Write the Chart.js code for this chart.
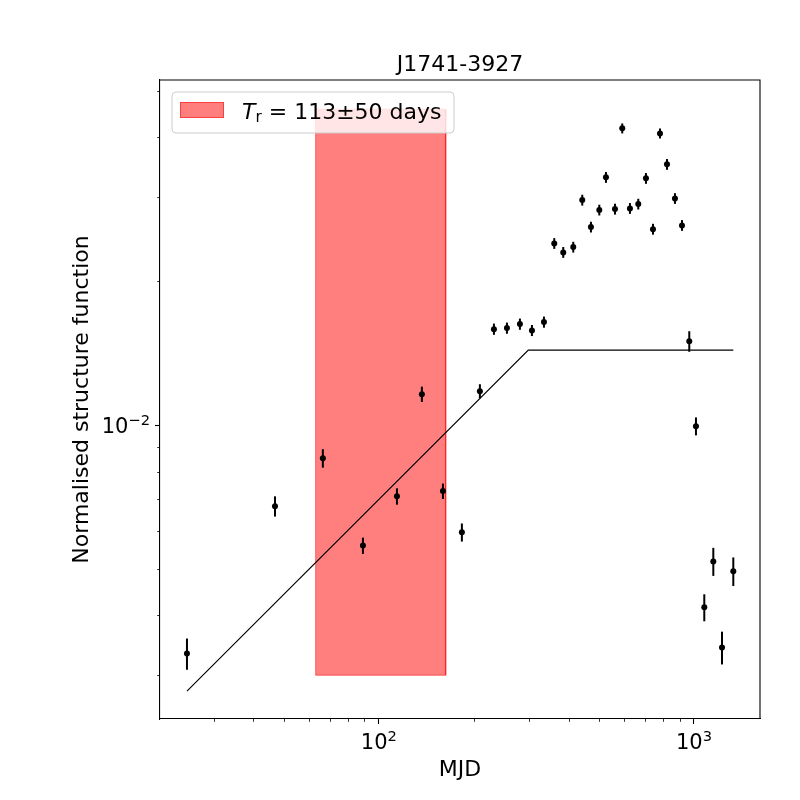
<!DOCTYPE html>
<html><head><meta charset="utf-8">
<script src="https://cdn.jsdelivr.net/npm/chart.js@4.4.0/dist/chart.umd.min.js"></script>
<style>html,body{margin:0;padding:0;background:#fff;}#wrap{width:800px;height:800px;}</style>
</head><body><div id="wrap"><canvas id="c" width="800" height="800"></canvas></div>
<script>
// ---- data ----
const lags = [24.6, 46.8, 66.4, 89.0, 114.1, 136.9, 159.7, 183.4, 209.2, 231.8, 254.9, 280.3, 306.0, 334.1, 360.2, 384.7, 413.9, 442.0, 471.0, 500.6, 525.6, 561.4, 592.0, 626.3, 665.6, 704.0, 741.1, 780.0, 821.0, 870.2, 916.0, 966.2, 1014.6, 1078.2, 1151.7, 1227.2, 1332.9];
const sf = [0.00333, 0.00677, 0.00853, 0.00560, 0.00710, 0.01161, 0.00728, 0.00597, 0.01178, 0.01588, 0.01596, 0.01627, 0.01578, 0.01643, 0.02399, 0.02298, 0.02357, 0.02956, 0.02596, 0.02818, 0.03298, 0.02831, 0.04175, 0.02840, 0.02900, 0.03282, 0.02570, 0.04075, 0.03511, 0.02979, 0.02617, 0.01498, 0.00995, 0.00416, 0.00519, 0.00343, 0.00495];
const sfErr = [0.00025, 0.00033, 0.00038, 0.00022, 0.00028, 0.00043, 0.00027, 0.00026, 0.00040, 0.00043, 0.00043, 0.00044, 0.00042, 0.00044, 0.00062, 0.00060, 0.00061, 0.00077, 0.00067, 0.00073, 0.00086, 0.00074, 0.00100, 0.00074, 0.00075, 0.00085, 0.00067, 0.00098, 0.00091, 0.00077, 0.00068, 0.00074, 0.00043, 0.00027, 0.00035, 0.00027, 0.00034];
const modelLag = [24.6, 298, 1333];
const modelSF = [0.00278, 0.01435, 0.01435];
const trCentre = 113, trErr = 50;
const bandSF = [0.003, 0.0458];
const xRange = [20.2, 1620];
const yRange = [0.00243, 0.0527];
const xMajorTicks = [100, 1000];
const xTickBase = ['10', '10'];
const xTickExp = ['2', '3'];
const yMajorTicks = [0.01];
const yTickBase = ['10'];
const yTickExp = ['\u22122'];
const titleText = 'J1741-3927';
const xLabel = 'MJD';
const yLabel = 'Normalised structure function';

function minorList(decades, lo, hi) {
  const out = [];
  decades.forEach(d => { for (let m = 2; m <= 9; m++) { const v = m * d; if (v >= lo && v <= hi) out.push(v); } });
  return out;
}
const xMinor = minorList([10, 100, 1000], xRange[0], xRange[1]);
const yMinor = minorList([0.001, 0.01], yRange[0], yRange[1]);

const FONT = "'DejaVu Sans', sans-serif";
Chart.defaults.font.family = FONT;
Chart.defaults.color = '#000';
const TICK_PX = 21, EXP_PX = 14.7, EXP_RISE = 8;

const bandPts = [
  {x: trCentre - trErr, y: bandSF[0]}, {x: trCentre - trErr, y: bandSF[1]},
  {x: trCentre + trErr, y: bandSF[1]}, {x: trCentre + trErr, y: bandSF[0]},
  {x: trCentre - trErr, y: bandSF[0]}
];

function powerLabel(ctx, base, exp, x, y, align) {
  ctx.font = TICK_PX + 'px ' + FONT; const wb = ctx.measureText(base).width;
  ctx.font = EXP_PX + 'px ' + FONT; const we = ctx.measureText(exp).width;
  const w = wb + we;
  let sx = align === 'center' ? x - w / 2 : x - w;
  ctx.textAlign = 'left'; ctx.textBaseline = 'alphabetic';
  ctx.font = TICK_PX + 'px ' + FONT; ctx.fillText(base, sx, y);
  ctx.font = EXP_PX + 'px ' + FONT; ctx.fillText(exp, sx + wb, y - EXP_RISE);
}

const extras = {
  id: 'extras',
  afterDatasetsDraw(chart) {
    const ctx = chart.ctx, xs = chart.scales.x, ys = chart.scales.y, a = chart.chartArea;
    ctx.save();
    ctx.beginPath(); ctx.rect(a.left, a.top, a.right - a.left, a.bottom - a.top); ctx.clip();
    ctx.strokeStyle = '#000'; ctx.lineWidth = 2;
    lags.forEach((l, i) => {
      const px = xs.getPixelForValue(l);
      ctx.beginPath();
      ctx.moveTo(px, ys.getPixelForValue(sf[i] - sfErr[i]));
      ctx.lineTo(px, ys.getPixelForValue(sf[i] + sfErr[i]));
      ctx.stroke();
    });
    ctx.restore();
  },
  afterDraw(chart) {
    const ctx = chart.ctx, xs = chart.scales.x, ys = chart.scales.y, a = chart.chartArea;
    ctx.save();
    // minor ticks
    ctx.strokeStyle = '#000'; ctx.lineWidth = 0.8;
    xMinor.forEach(v => { const p = Math.round(xs.getPixelForValue(v)) + 0.5; ctx.beginPath(); ctx.moveTo(p, a.bottom); ctx.lineTo(p, a.bottom + 2.8); ctx.stroke(); });
    yMinor.forEach(v => { const p = Math.round(ys.getPixelForValue(v)) + 0.5; ctx.beginPath(); ctx.moveTo(a.left, p); ctx.lineTo(a.left - 2.8, p); ctx.stroke(); });
    // major tick labels
    ctx.fillStyle = '#000';
    xMajorTicks.forEach((v, i) => powerLabel(ctx, xTickBase[i], xTickExp[i], xs.getPixelForValue(v), a.bottom + 30, 'center'));
    yMajorTicks.forEach((v, i) => powerLabel(ctx, yTickBase[i], yTickExp[i], a.left - 10, ys.getPixelForValue(v) + 8, 'right'));
    // frame top/right
    ctx.lineWidth = 1.1;
    ctx.beginPath(); ctx.moveTo(a.left, a.top); ctx.lineTo(a.right, a.top); ctx.lineTo(a.right, a.bottom); ctx.stroke();
    // legend
    const bx = 172, by = 92, bw = 282, bh = 41, r = 4;
    ctx.beginPath();
    ctx.moveTo(bx + r, by); ctx.lineTo(bx + bw - r, by); ctx.quadraticCurveTo(bx + bw, by, bx + bw, by + r);
    ctx.lineTo(bx + bw, by + bh - r); ctx.quadraticCurveTo(bx + bw, by + bh, bx + bw - r, by + bh);
    ctx.lineTo(bx + r, by + bh); ctx.quadraticCurveTo(bx, by + bh, bx, by + bh - r);
    ctx.lineTo(bx, by + r); ctx.quadraticCurveTo(bx, by, bx + r, by); ctx.closePath();
    ctx.fillStyle = 'rgba(255,255,255,0.8)'; ctx.fill();
    ctx.strokeStyle = '#cccccc'; ctx.lineWidth = 1; ctx.stroke();
    ctx.fillStyle = 'rgba(255,0,0,0.5)'; ctx.fillRect(180, 102, 44, 16);
    ctx.strokeStyle = 'rgba(255,0,0,0.5)'; ctx.strokeRect(180.5, 102.5, 43, 15);
    ctx.fillStyle = '#000'; ctx.textBaseline = 'alphabetic'; ctx.textAlign = 'left';
    let x = 242; const base = 118.5;
    ctx.font = 'oblique 22px ' + FONT; ctx.fillText('T', x, base); x += ctx.measureText('T').width;
    ctx.font = '15.4px ' + FONT; ctx.fillText('r', x, base + 3.5); x += ctx.measureText('r').width;
    ctx.font = '22px ' + FONT; ctx.fillText(' = 113\u00B150 days', x, base);
    ctx.restore();
  }
};

const axisTicks = {display: false};

new Chart(document.getElementById('c'), {
  type: 'scatter',
  data: {
    datasets: [
      {type: 'line', data: bandPts, fill: 'shape', backgroundColor: 'rgba(255,0,0,0.5)', borderColor: 'rgba(255,0,0,0.5)', borderWidth: 1, pointRadius: 0, tension: 0, order: 3},
      {type: 'line', data: modelLag.map((l, i) => ({x: l, y: modelSF[i]})), borderColor: '#000', borderWidth: 1.2, pointRadius: 0, fill: false, tension: 0, order: 2},
      {type: 'scatter', data: lags.map((l, i) => ({x: l, y: sf[i]})), backgroundColor: '#000', borderWidth: 0, pointRadius: 3, order: 1}
    ]
  },
  options: {
    responsive: false, animation: false, devicePixelRatio: 1,
    layout: {padding: {left: 0, right: 40, top: 0, bottom: 0}},
    plugins: {
      legend: {display: false}, tooltip: {enabled: false},
      title: {display: true, text: titleText, fullSize: false, color: '#000', font: {size: 22, weight: 'normal', family: FONT}, padding: {top: 52, bottom: 1.6}}
    },
    scales: {
      x: {
        type: 'logarithmic', min: xRange[0], max: xRange[1],
        afterBuildTicks(s) { s.ticks = xMajorTicks.map(v => ({value: v})); },
        afterFit(s) { s.height = 81; },
        ticks: axisTicks,
        grid: {display: true, drawOnChartArea: false, drawTicks: true, tickLength: 5, tickWidth: 1.1, tickColor: '#000'},
        border: {display: true, color: '#000', width: 1.1},
        title: {display: true, text: xLabel, color: '#000', font: {size: 22, family: FONT}, padding: {top: 0, bottom: 16.8}}
      },
      y: {
        type: 'logarithmic', min: yRange[0], max: yRange[1],
        afterBuildTicks(s) { s.ticks = yMajorTicks.map(v => ({value: v})); },
        afterFit(s) { s.width = 160; },
        ticks: axisTicks,
        grid: {display: true, drawOnChartArea: false, drawTicks: true, tickLength: 5, tickWidth: 1.1, tickColor: '#000'},
        border: {display: true, color: '#000', width: 1.1},
        title: {display: true, text: yLabel, color: '#000', font: {size: 22, family: FONT}, padding: {top: 68.8, bottom: 0}}
      }
    }
  },
  plugins: [extras]
});
</script></body></html>
